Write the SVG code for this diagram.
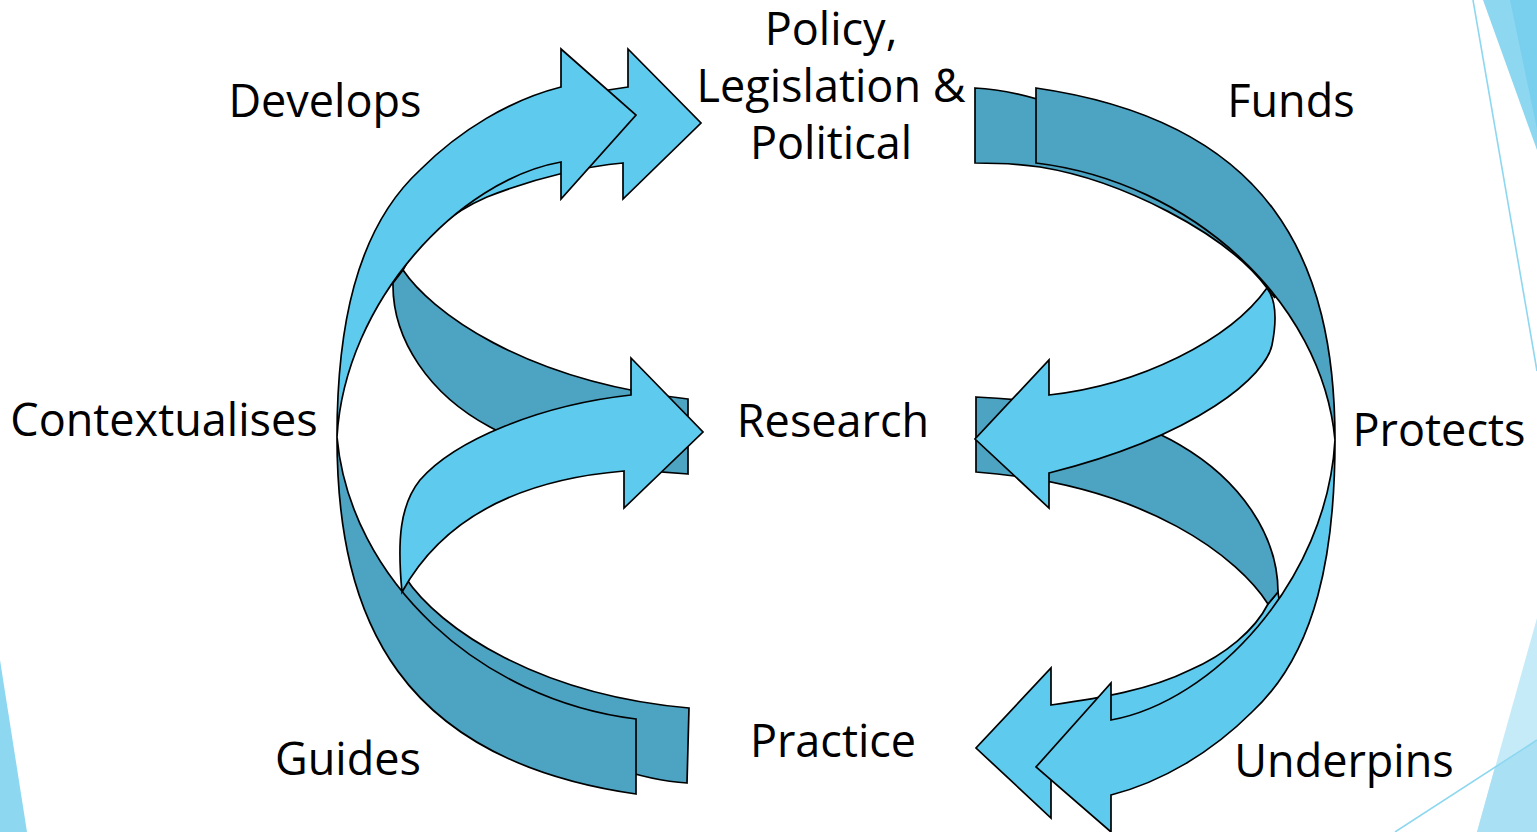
<svg xmlns="http://www.w3.org/2000/svg" width="1537" height="832" viewBox="0 0 1537 832">
<style>
.lt{fill:#5ECBEE;stroke:#000;stroke-width:1.7;stroke-linejoin:miter}
.dk{fill:#4CA3C2;stroke:#000;stroke-width:1.7;stroke-linejoin:miter}
.lbl{font-family:"Open Sans","Liberation Sans",sans-serif;font-size:45px;fill:#000;text-anchor:middle}
.deco{fill:#8DD7F0}
.decoline{stroke:#8DD7F0;stroke-width:1.6;fill:none}
</style>
<rect width="1537" height="832" fill="#fff"/>
<g id="background">
<polygon class="deco" points="1483,0 1537,0 1537,150"/>
<polygon fill="#78CFEE" points="1510,0 1537,0 1537,129"/>
<line class="decoline" x1="1473" y1="0" x2="1537" y2="371"/>
<polygon fill="#C6EBF8" points="1537,618 1537,832 1477,832"/>
<polygon fill="#A9E0F4" points="1495,767 1537,740 1537,832 1477,832"/>
<line class="decoline" x1="1395" y1="832" x2="1537" y2="740"/>
<polygon class="deco" points="0,660 27,832 0,832"/>
</g>
<g id="connectors">
<!-- left side -->
<path id="l-develops-back" class="lt" d="M393,283 C 385,200 460,110 628,87 L628,49 L701,123 L623,199 L623,163 C 590,166 540,176 487,197 C 452,212 418,240 403,270 Z"/>
<path id="l-research-dark" class="dk" d="M403,270 C 430,310 520,380 688,399 L688,474 C 620,470 540,455 490,427 C 430,395 392,340 393,283 Z"/>
<path id="l-practice-dark-back" class="dk" d="M405,577 C 440,630 540,695 689,708 L687,783 C 600,778 430,700 402,593 Z"/>
<path id="l-guides-dark" class="dk" d="M337,437 C 337,620 400,760 636,794 L636,719 C 480,700 350,580 337,437 Z"/>
<path id="l-develops-front" class="lt" d="M337,437 C 337,330 355,230 420,170 C 460,130 510,100 561,87 L561,49 L636,115 L561,199 L561,162 C 460,180 345,300 337,437 Z"/>
<path id="l-research-arrow" class="lt" d="M402,592 C 397,540 400,505 420,480 C 455,440 540,405 631,395 L631,358 L703,432 L624,508 L624,471 C 540,478 450,505 402,592 Z"/>
<!-- right side -->
<path id="r-underpins-back" class="lt" d="M1278,592 C 1295,680 1225,770 1051,780 L1051,818 L976,748 L1051,668 L1051,705 C 1100,698 1150,690 1190,670 C 1225,655 1255,630 1268,604 Z"/>
<path id="r-research-dark" class="dk" d="M976,397 C 1050,400 1130,415 1180,445 C 1240,480 1278,535 1278,592 L1268,604 C 1240,560 1150,485 976,472 Z"/>
<path id="r-policy-dark-back" class="dk" d="M1267,288 C 1225,232 1120,180 1040,167 C 1020,164 995,163 975,163 L975,88 C 1070,92 1250,180 1275,298 Z"/>
<path id="r-funds-dark" class="dk" d="M1335,440 C 1335,262 1272,122 1036,88 L1036,163 C 1192,182 1322,302 1335,440 Z"/>
<path id="r-underpins-front" class="lt" d="M1335,440 C 1335,552 1317,652 1252,712 C 1212,752 1162,782 1111,795 L1111,832 L1036,767 L1111,683 L1111,720 C 1212,702 1327,582 1335,440 Z"/>
<path id="r-research-arrow" class="lt" d="M1267,288 C 1276,300 1277,320 1272,345 C 1266,375 1200,435 1049,473 L1049,508 L975,439 L1049,360 L1049,395 C 1140,385 1230,340 1267,288 Z"/>
</g>
<g id="node-policy"><text class="lbl" x="831" y="45">Policy,</text><text class="lbl" x="831" y="102">Legislation &amp;</text><text class="lbl" x="831" y="159">Political</text></g>
<g id="node-research"><text class="lbl" x="833" y="437">Research</text></g>
<g id="node-practice"><text class="lbl" x="833" y="757">Practice</text></g>
<g id="label-develops"><text class="lbl" x="325" y="117">Develops</text></g>
<g id="label-contextualises"><text class="lbl" x="164" y="436">Contextualises</text></g>
<g id="label-guides"><text class="lbl" x="348" y="775">Guides</text></g>
<g id="label-funds"><text class="lbl" x="1291" y="117">Funds</text></g>
<g id="label-protects"><text class="lbl" x="1439" y="446">Protects</text></g>
<g id="label-underpins"><text class="lbl" x="1344" y="777">Underpins</text></g>
</svg>
